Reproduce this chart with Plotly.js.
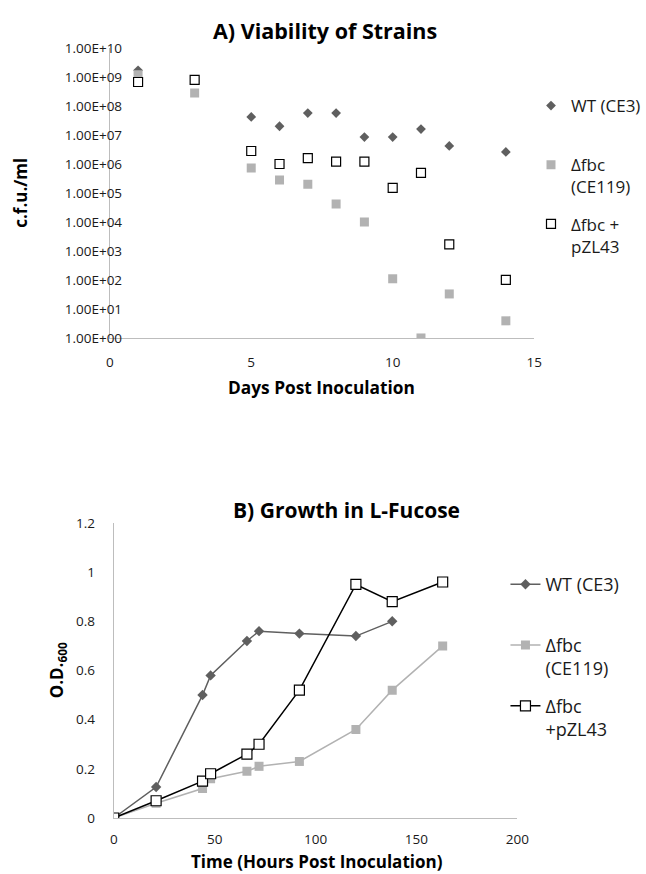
<!DOCTYPE html>
<html><head><meta charset="utf-8">
<script src="https://cdn.plot.ly/plotly-3.0.1.min.js"></script>
<style>body{margin:0;background:#fff}#c{width:646px;height:874px}</style>
</head><body><div id="c"></div>
<script>
// Panel A: viability (c.f.u./ml) vs days
const daysWT = [1, 5, 6, 7, 8, 9, 10, 11, 12, 14];
const cfuWT = [1.7e9, 4.2e7, 2.0e7, 5.7e7, 5.7e7, 8.5e6, 8.5e6, 1.6e7, 4.2e6, 2.6e6];
const daysFbc = [1, 3, 5, 6, 7, 8, 9, 10, 11, 12, 14];
const cfuFbc = [1.2e9, 2.8e8, 7.2e5, 2.8e5, 2.0e5, 4.2e4, 1.0e4, 1.1e2, 1.0e0, 3.3e1, 3.9e0];
const daysComp = [1, 3, 5, 6, 7, 8, 9, 10, 11, 12, 14];
const cfuComp = [6.7e8, 7.9e8, 2.8e6, 1.0e6, 1.6e6, 1.2e6, 1.2e6, 1.5e5, 4.9e5, 1.7e3, 1.0e2];
const logTickVals = [1, 10, 100, 1e3, 1e4, 1e5, 1e6, 1e7, 1e8, 1e9, 1e10];
const logTickText = ["1.00E+00","1.00E+01","1.00E+02","1.00E+03","1.00E+04","1.00E+05","1.00E+06","1.00E+07","1.00E+08","1.00E+09","1.00E+10"];

// Panel B: growth in L-fucose (OD600) vs hours
const hoursWT = [0, 21, 44, 48, 66, 72, 92, 120, 138];
const odWT = [0, 0.126, 0.50, 0.58, 0.72, 0.76, 0.75, 0.74, 0.80];
const hoursFbc = [0, 21, 44, 48, 66, 72, 92, 120, 138, 163];
const odFbc = [0, 0.06, 0.12, 0.16, 0.19, 0.21, 0.23, 0.36, 0.52, 0.70];
const hoursComp = [0, 21, 44, 48, 66, 72, 92, 120, 138, 163];
const odComp = [0, 0.07, 0.15, 0.18, 0.26, 0.30, 0.52, 0.95, 0.88, 0.96];

const names = ["WT (CE3)<br>\u00a0", "Δfbc<br>(CE119)", "Δfbc +<br>pZL43", "Δfbc<br>+pZL43"];
const cDark = "#5f5f5f", cLight = "#b2b2b2", cAxis = "#bdbdbd", cText = "#1a1a1a";
const F = "'Open Sans', sans-serif";

const traces = [
  {x: daysWT, y: cfuWT, xaxis:"x", yaxis:"y", mode:"markers", name:names[0], legend:"legend", legendgroup:"a1",
   marker:{symbol:"diamond", size:7.5, color:cDark}},
  {x: daysFbc, y: cfuFbc, xaxis:"x", yaxis:"y", mode:"markers", name:names[1], legend:"legend", legendgroup:"a2",
   marker:{symbol:"square", size:9, color:cLight}},
  {x: daysComp, y: cfuComp, xaxis:"x", yaxis:"y", mode:"markers", name:names[2], legend:"legend", legendgroup:"a3",
   marker:{symbol:"square", size:9, color:"#fff", line:{color:"#000", width:1.2}}},
  {x: hoursWT, y: odWT, xaxis:"x2", yaxis:"y2", mode:"lines+markers", name:names[0], legend:"legend2", legendgroup:"b1",
   line:{color:cDark, width:1.5}, marker:{symbol:"diamond", size:8, color:cDark}},
  {x: hoursFbc, y: odFbc, xaxis:"x2", yaxis:"y2", mode:"lines+markers", name:names[1], legend:"legend2", legendgroup:"b2",
   line:{color:cLight, width:1.5}, marker:{symbol:"square", size:9, color:cLight}},
  {x: hoursComp, y: odComp, xaxis:"x2", yaxis:"y2", mode:"lines+markers", name:names[3], legend:"legend2", legendgroup:"b3",
   line:{color:"#000", width:1.5}, marker:{symbol:"square", size:10, color:"#fff", line:{color:"#000", width:1.2}}}
];

const axBase = {showgrid:false, zeroline:false, showline:true, linecolor:cAxis, linewidth:1,
  ticks:"outside", tickcolor:"rgba(0,0,0,0)", tickfont:{family:F, size:13.5, color:cText}, automargin:false, fixedrange:true};

const layout = {
  width:646, height:874, margin:{l:0, r:0, t:0, b:0},
  paper_bgcolor:"#fff", plot_bgcolor:"#fff",
  font:{family:F, size:13, color:cText},
  xaxis: Object.assign({}, axBase, {domain:[0.1718, 0.8359], range:[0, 15], tickvals:[0,5,10,15], ticklen:12, anchor:"y"}),
  yaxis: Object.assign({}, axBase, {domain:[0.6133, 0.9451], type:"log", range:[0, 10], tickvals:logTickVals, ticktext:logTickText, ticklen:11, ticklabelstandoff:-27, anchor:"x"}),
  xaxis2: Object.assign({}, axBase, {domain:[0.178, 0.8096], range:[0, 200], tickvals:[0,50,100,150,200], ticklen:9, anchor:"y2"}),
  yaxis2: Object.assign({}, axBase, {domain:[0.0641, 0.4016], range:[0, 1.2], tickvals:[0,0.2,0.4,0.6,0.8,1,1.2], ticktext:["0","0.2","0.4","0.6","0.8","1","1.2"], ticklen:15, anchor:"x2"}),
  legend:{x:537/646, y:1-88/874, xanchor:"left", yanchor:"top", valign:"top", bgcolor:"rgba(0,0,0,0)", tracegroupgap:12, itemwidth:30,
    font:{family:F, size:17, color:cText}},
  legend2:{x:511/646, y:1-566/874, xanchor:"left", yanchor:"top", valign:"top", bgcolor:"rgba(0,0,0,0)", tracegroupgap:11, itemwidth:30,
    font:{family:F, size:18, color:cText}},
  annotations:[
    {text:"<b>A) Viability of Strains</b>", xref:"paper", yref:"paper", x:329/646, y:1-30/874, xanchor:"center", yanchor:"middle", showarrow:false, font:{family:F, size:21.5, color:"#000"}},
    {text:"<b>Days Post Inoculation</b>", xref:"paper", yref:"paper", x:325/646, y:1-387/874, xanchor:"center", yanchor:"middle", showarrow:false, font:{family:F, size:17.3, color:"#000"}},
    {text:"<b>c.f.u./ml</b>", xref:"paper", yref:"paper", x:20/646, y:1-193/874, xanchor:"center", yanchor:"middle", showarrow:false, textangle:-90, font:{family:F, size:17, color:"#000"}},
    {text:"<b>B) Growth in L-Fucose</b>", xref:"paper", yref:"paper", x:350/646, y:1-510/874, xanchor:"center", yanchor:"middle", showarrow:false, font:{family:F, size:21, color:"#000"}},
    {text:"<b>Time (Hours Post Inoculation)</b>", xref:"paper", yref:"paper", x:320/646, y:1-861/874, xanchor:"center", yanchor:"middle", showarrow:false, font:{family:F, size:17, color:"#000"}},
    {text:"<b>O.D.<sub>600</sub></b>", xref:"paper", yref:"paper", x:58/646, y:1-670/874, xanchor:"center", yanchor:"middle", showarrow:false, textangle:-90, font:{family:F, size:17, color:"#000"}}
  ]
};

Plotly.newPlot("c", traces, layout, {displayModeBar:false, staticPlot:true});
</script></body></html>
